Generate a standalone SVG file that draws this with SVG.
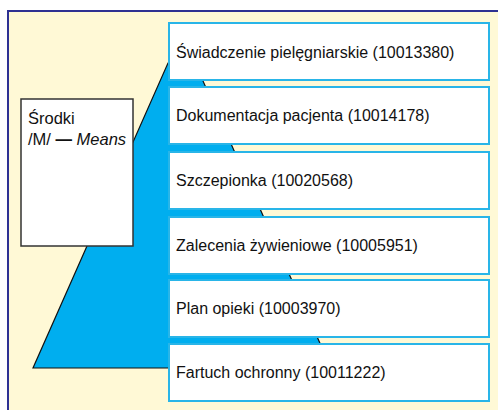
<svg xmlns="http://www.w3.org/2000/svg" width="498" height="410" viewBox="0 0 498 410">
<style>
.t{font-family:"Liberation Sans",Arial,sans-serif;font-size:16px;fill:#111}
.m{font-size:16.5px}
.n{fill:#fff;stroke:#29b5e8;stroke-width:2}
</style>
<rect x="0" y="0" width="498" height="410" fill="#fff"/>
<rect x="8" y="11" width="500" height="410" fill="#fff9d6" stroke="#2e3192" stroke-width="2"/>
<g id="connectors">
<polygon points="168,63 195,63 331,368 33,368" fill="#00aeef" stroke="#111" stroke-width="1.2" stroke-linejoin="miter"/>
</g>
<g id="means">
<rect x="21" y="99" width="112" height="147" fill="#fff" stroke="#333" stroke-width="1.5"/>
<text class="t m" x="28" y="124">Środki</text>
<text class="t m" x="28" y="145">/M/ <tspan font-weight="bold">—</tspan> <tspan font-style="italic">Means</tspan></text>
</g>
<g id="n1"><rect class="n" x="169" y="23" width="320" height="57"/><text class="t" x="176" y="58">Świadczenie pielęgniarskie (10013380)</text></g>
<g id="n2"><rect class="n" x="169" y="87" width="320" height="57"/><text class="t" x="176" y="121">Dokumentacja pacjenta (10014178)</text></g>
<g id="n3"><rect class="n" x="169" y="152" width="320" height="57"/><text class="t" x="176" y="186">Szczepionka (10020568)</text></g>
<g id="n4"><rect class="n" x="169" y="217" width="320" height="57"/><text class="t" x="176" y="251">Zalecenia żywieniowe (10005951)</text></g>
<g id="n5"><rect class="n" x="169" y="280" width="320" height="57"/><text class="t" x="176" y="314">Plan opieki (10003970)</text></g>
<g id="n6"><rect class="n" x="169" y="344" width="320" height="57"/><text class="t" x="176" y="378">Fartuch ochronny (10011222)</text></g>
</svg>
